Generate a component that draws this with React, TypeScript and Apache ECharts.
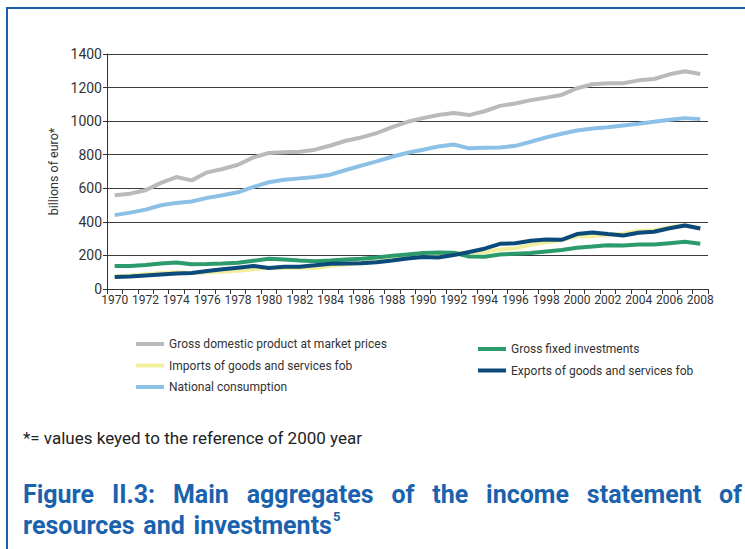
import React, { useEffect, useRef } from "react";
import * as echarts from "echarts";

const years = [
  "1970", "1971", "1972", "1973", "1974", "1975", "1976", "1977", "1978", "1979",
  "1980", "1981", "1982", "1983", "1984", "1985", "1986", "1987", "1988", "1989",
  "1990", "1991", "1992", "1993", "1994", "1995", "1996", "1997", "1998", "1999",
  "2000", "2001", "2002", "2003", "2004", "2005", "2006", "2007", "2008",
];

const gdp = [
  558, 568, 588, 632, 667, 647, 695, 715, 740, 784, 810, 814, 818, 830, 855,
  883, 903, 929, 964, 996, 1018, 1037, 1049, 1036, 1059, 1091, 1105, 1125, 1140, 1156,
  1196, 1220, 1226, 1226, 1243, 1251, 1279, 1297, 1281,
];
const imports = [
  75, 80, 88, 95, 100, 95, 100, 103, 108, 118, 125, 125, 125, 125, 138,
  146, 156, 162, 176, 184, 196, 204, 214, 216, 220, 236, 242, 263, 279, 291,
  315, 315, 321, 331, 346, 350, 368, 382, 360,
];
const national = [
  440, 455, 473, 499, 513, 521, 543, 558, 576, 608, 636, 651, 659, 667, 681,
  709, 735, 760, 788, 812, 830, 849, 861, 838, 842, 843, 853, 877, 903, 925,
  944, 956, 964, 974, 984, 996, 1008, 1018, 1012,
];
const investment = [
  137, 137, 143, 152, 158, 147, 149, 152, 156, 168, 180, 176, 170, 166, 170,
  176, 180, 188, 198, 206, 214, 218, 216, 194, 192, 206, 210, 214, 224, 232,
  246, 253, 261, 259, 265, 265, 273, 281, 269,
];
const exportsData = [
  71, 75, 81, 87, 93, 95, 107, 117, 127, 137, 125, 133, 133, 141, 150,
  152, 154, 160, 170, 182, 190, 188, 202, 220, 240, 269, 273, 287, 295, 293,
  327, 337, 327, 319, 335, 341, 362, 378, 360,
];

const seriesNames = [
  "Gross domestic product at market prices",
  "Imports of goods and services fob",
  "National consumption",
  "Gross fixed investments",
  "Exports of goods and services fob",
];
const seriesColors = ["#b9babc", "#f1ee9e", "#8dc0e7", "#2c9b6c", "#0c4a7b"];
const seriesData = [gdp, imports, national, investment, exportsData];

const yTicks = { min: 0, max: 1400, interval: 200 };

const FONT = "Roboto, 'Liberation Sans', sans-serif";
const BLUE = "#1a62ad";

const footnote = "*= values keyed to the reference of 2000 year";
const titleLine1 = ["Figure", "II.3:", "Main", "aggregates", "of", "the", "income", "statement", "of"];
const titleLine2 = ["resources", "and", "investments"];
const titleSup = "5";

function measure(text: string, font: string): number {
  const ctx = document.createElement("canvas").getContext("2d");
  if (!ctx) return text.length * 8;
  ctx.font = font;
  return ctx.measureText(text).width;
}

export default function App() {
  const ref = useRef<HTMLDivElement>(null);
  useEffect(() => {
    const chart = echarts.init(ref.current as HTMLDivElement, null, { renderer: "svg" });
    const titleSize = 25;
    const titleFontCss = `bold ${titleSize}px Roboto`;
    const titleFont = { fontFamily: FONT, fontWeight: "bold", fontSize: titleSize, fill: BLUE };

    const fnW16 = measure(footnote, "16px Roboto");
    const fnSize = Math.min(17, Math.max(13, (16 * 385) / fnW16));

    const lgW14 = measure(seriesNames[0], "14px Roboto");
    const lgSize = Math.min(14, Math.max(11, (14 * 218) / lgW14));

    const graphics: any[] = [
      { type: "line", shape: { x1: 6, y1: 8, x2: 745, y2: 8 }, style: { stroke: "#1d5fa8", lineWidth: 2 } },
      { type: "line", shape: { x1: 7, y1: 7, x2: 7, y2: 549 }, style: { stroke: "#1d5fa8", lineWidth: 2 } },
      {
        type: "text",
        x: 23,
        y: 438,
        style: { text: footnote, fontFamily: FONT, fontSize: fnSize, fill: "#222", verticalAlign: "middle" },
      },
    ];

    // justified first title line from x=23 to x=742
    const widths = titleLine1.map((w) => measure(w, titleFontCss));
    const total = widths.reduce((a, b) => a + b, 0);
    const gap = Math.max(5, (742 - 23 - total) / (titleLine1.length - 1));
    let cx = 23;
    titleLine1.forEach((w, i) => {
      graphics.push({ type: "text", x: cx, y: 494, style: { ...titleFont, text: w, verticalAlign: "middle" } });
      cx += widths[i] + gap;
    });
    // second line, natural spacing
    const space = measure(" ", titleFontCss) * 1.4;
    let lx = 23;
    titleLine2.forEach((w) => {
      graphics.push({ type: "text", x: lx, y: 525, style: { ...titleFont, text: w, verticalAlign: "middle" } });
      lx += measure(w, titleFontCss) + space;
    });
    lx -= space;
    graphics.push({ type: "text", x: lx + 1, y: 516, style: { ...titleFont, fontSize: 13, text: titleSup, verticalAlign: "middle" } });

    const legendText = { fontFamily: FONT, fontSize: lgSize, lineHeight: 14, color: "#333" };

    const option: any = {
      animation: false,
      backgroundColor: "#ffffff",
      grid: { left: 107, right: 37, top: 54, bottom: 260, containLabel: false },
      legend: [
        {
          data: seriesNames.slice(0, 3),
          orient: "vertical",
          left: 136,
          top: 337,
          padding: 0,
          itemWidth: 28,
          itemHeight: 4,
          itemGap: 7.5,
          icon: "rect",
          selectedMode: false,
          textStyle: legendText,
        },
        {
          data: seriesNames.slice(3),
          orient: "vertical",
          left: 478,
          top: 342,
          padding: 0,
          itemWidth: 28,
          itemHeight: 4,
          itemGap: 7.5,
          icon: "rect",
          selectedMode: false,
          textStyle: legendText,
        },
      ],
      xAxis: {
        type: "category",
        data: years,
        boundaryGap: true,
        axisLine: { show: true, lineStyle: { color: "#333", width: 1 } },
        axisTick: { show: true, interval: 0, length: 5, lineStyle: { color: "#333" } },
        axisLabel: { interval: 1, fontFamily: FONT, fontSize: 12, color: "#333", margin: 5 },
        splitLine: { show: false },
      },
      yAxis: {
        type: "value",
        min: yTicks.min,
        max: yTicks.max,
        interval: yTicks.interval,
        name: "billions of euro*",
        nameLocation: "middle",
        nameGap: 47,
        nameRotate: 90,
        nameTextStyle: { fontFamily: FONT, fontSize: 12.5, color: "#333" },
        axisLine: { show: true, lineStyle: { color: "#333", width: 1 } },
        axisTick: { show: true, length: 4, lineStyle: { color: "#333" } },
        axisLabel: { fontFamily: FONT, fontSize: 14, color: "#333", margin: 5, formatter: (v: number) => String(v) },
        splitLine: { show: true, lineStyle: { color: "#3a3a3a", width: 1.2 } },
      },
      series: seriesNames.map((name, i) => ({
        name,
        type: "line",
        data: seriesData[i],
        showSymbol: false,
        symbol: "none",
        lineStyle: { color: seriesColors[i], width: 4 },
        itemStyle: { color: seriesColors[i] },
        z: 2 + i,
      })),
      graphic: graphics,
    };
    chart.setOption(option);
    return () => chart.dispose();
  }, []);
  return <div ref={ref} style={{ position: "absolute", left: 0, top: 0, width: 745, height: 549 }} />;
}
